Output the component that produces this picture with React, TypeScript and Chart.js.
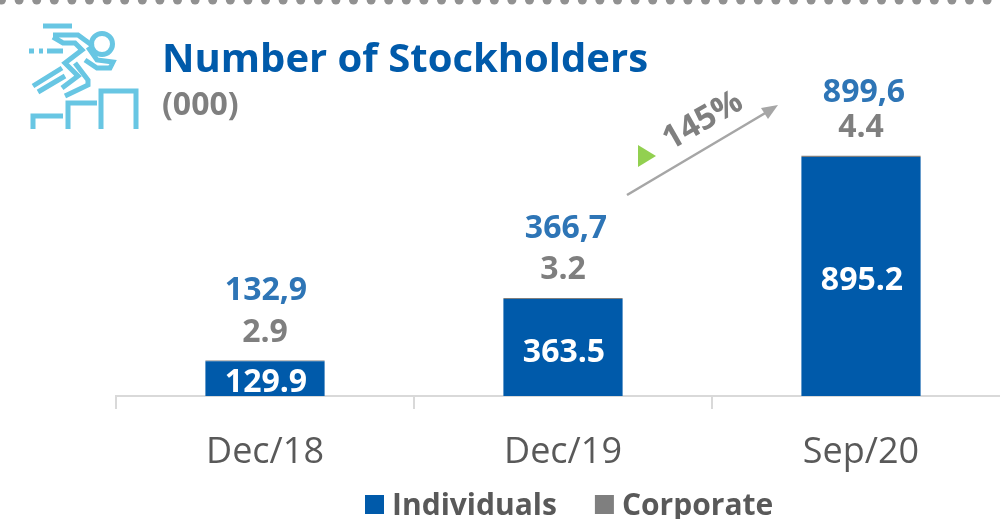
import React, { useEffect, useRef } from "react";
import { Chart, registerables } from "chart.js";

Chart.register(...registerables);

const categories = ["Dec/18", "Dec/19", "Sep/20"];
const individuals = [129.9, 363.5, 895.2];
const corporate = [2.9, 3.2, 4.4];
const totalLabels = ["132,9", "366,7", "899,6"];
const individualLabels = ["129.9", "363.5", "895.2"];
const corporateLabels = ["2.9", "3.2", "4.4"];
const growthLabel = "145%";
const FONT = '"Open Sans", "Noto Sans", sans-serif';
const BLUE = "#005aaa";
const GRAY = "#7f7f7f";
const totalOffsets = [70, 69, 63];
const totalShift = [1, 3, 3];
const insideShift = [4, 5, 4];

const annotations = {
  id: "annotations",
  afterDatasetsDraw(chart: any) {
    const { ctx } = chart;
    const ind = chart.getDatasetMeta(0).data;
    const corp = chart.getDatasetMeta(1).data;
    ctx.save();
    ctx.textAlign = "center";
    ctx.textBaseline = "middle";
    ind.forEach((bar: any, i: number) => {
      const barH = bar.base - bar.y;
      const midY = bar.y + barH / 2 + insideShift[i];
      ctx.font = `700 32px ${FONT}`;
      ctx.fillStyle = "#ffffff";
      ctx.fillText(individualLabels[i], bar.x + 1, midY);
      const top = corp[i].y;
      ctx.fillStyle = GRAY;
      ctx.fillText(corporateLabels[i], bar.x, top - 28);
      ctx.fillStyle = "#2e75b6";
      ctx.fillText(totalLabels[i], bar.x + totalShift[i], top - totalOffsets[i]);
    });
    // growth arrow
    ctx.strokeStyle = "#a6a6a6";
    ctx.fillStyle = "#a6a6a6";
    ctx.lineWidth = 2.6;
    ctx.beginPath();
    ctx.moveTo(627, 195);
    ctx.lineTo(767, 112);
    ctx.stroke();
    ctx.beginPath();
    ctx.moveTo(778, 105);
    ctx.lineTo(761, 108);
    ctx.lineTo(768, 119);
    ctx.closePath();
    ctx.fill();
    // green triangle
    ctx.fillStyle = "#92d050";
    ctx.beginPath();
    ctx.moveTo(638, 145);
    ctx.lineTo(656, 156);
    ctx.lineTo(638, 167);
    ctx.closePath();
    ctx.fill();
    // growth text
    ctx.save();
    ctx.translate(703, 121);
    ctx.rotate(-Math.PI / 6);
    ctx.font = `700 33px ${FONT}`;
    ctx.fillStyle = GRAY;
    ctx.fillText(growthLabel, 0, 0);
    ctx.restore();
    // legend, from the datasets
    ctx.textAlign = "left";
    ctx.textBaseline = "alphabetic";
    ctx.font = `700 30px ${FONT}`;
    let x = 365;
    chart.data.datasets.forEach((d: any) => {
      ctx.fillStyle = d.backgroundColor;
      ctx.fillRect(x, 495, 19, 19);
      ctx.fillStyle = "#595959";
      ctx.fillText(d.label, x + 27, 515);
      x += 27 + ctx.measureText(d.label).width + 38;
    });
    ctx.restore();
  },
};

function Icon() {
  const c = "#68c6e3";
  return (
    <svg
      width="140"
      height="135"
      style={{ position: "absolute", left: 0, top: 0 }}
      fill="none"
      stroke={c}
      strokeWidth="5"
    >
      <path d="M43 26H72" />
      <path d="M29 51h5M39 51h4M47 51h16" />
      <circle cx="102" cy="44" r="10.5" />
      <path d="M53 35H78L93 46M53 37L63 43H75L82 50L65 63L78 76L62 88" />
      <path d="M88 47L97 60L113 62L110 68H97L85 60" />
      <path d="M62 68L33 86M65 76L38 92" />
      <path d="M75 63L88 80V85L65 96" />
      <path d="M33 129V116H63M68 129V103H97M101 129V91H136V129" />
    </svg>
  );
}

function Dots() {
  const xs = [];
  for (let x = 1.5; x <= 1002; x += 17.6) xs.push(x);
  return (
    <svg width="1000" height="10" style={{ position: "absolute", left: 0, top: 0 }}>
      {xs.map((x) => (
        <circle key={x} cx={x} cy={0} r={4.5} fill="#919191" />
      ))}
    </svg>
  );
}

export default function App() {
  const ref = useRef<HTMLCanvasElement>(null);
  useEffect(() => {
    document.body.style.margin = "0";
    const chart = new Chart(ref.current!, {
      type: "bar",
      plugins: [annotations],
      data: {
        labels: categories,
        datasets: [
          { label: "Individuals", data: individuals, backgroundColor: BLUE, barPercentage: 0.4, categoryPercentage: 1, stack: "s" },
          { label: "Corporate", data: corporate, backgroundColor: GRAY, barPercentage: 0.4, categoryPercentage: 1, stack: "s" },
        ],
      },
      options: {
        animation: false,
        responsive: false,
        layout: { padding: { left: 116, right: 130, top: 129, bottom: 0 } },
        scales: {
          x: {
            stacked: true,
            offset: true,
            afterFit: (s: any) => {
              s.height = 123;
            },
            border: { color: "#d9d9d9", width: 2 },
            grid: { offset: true, drawOnChartArea: false, drawTicks: true, tickLength: 13, color: "#d9d9d9", lineWidth: 2 },
            ticks: { color: "#595959", font: { family: FONT, size: 36 }, padding: 22, maxRotation: 0 },
          },
          y: { stacked: true, display: false, min: 0, max: 1000 },
        },
        plugins: {
          tooltip: { enabled: false },
          legend: { display: false },
        },
      },
    });
    return () => chart.destroy();
  }, []);
  return (
    <div style={{ position: "relative", width: 1000, height: 519, overflow: "hidden", background: "#fff" }}>
      <canvas ref={ref} width={1140} height={519} style={{ position: "absolute", left: 0, top: 0 }} />
      <Dots />
      <Icon />
      <div style={{ position: "absolute", left: 162, top: 29, font: `700 40px ${FONT}`, color: BLUE, whiteSpace: "nowrap" }}>
        Number of Stockholders
      </div>
      <div style={{ position: "absolute", left: 162, top: 81, font: `700 32px ${FONT}`, color: GRAY, whiteSpace: "nowrap" }}>
        (000)
      </div>
    </div>
  );
}
